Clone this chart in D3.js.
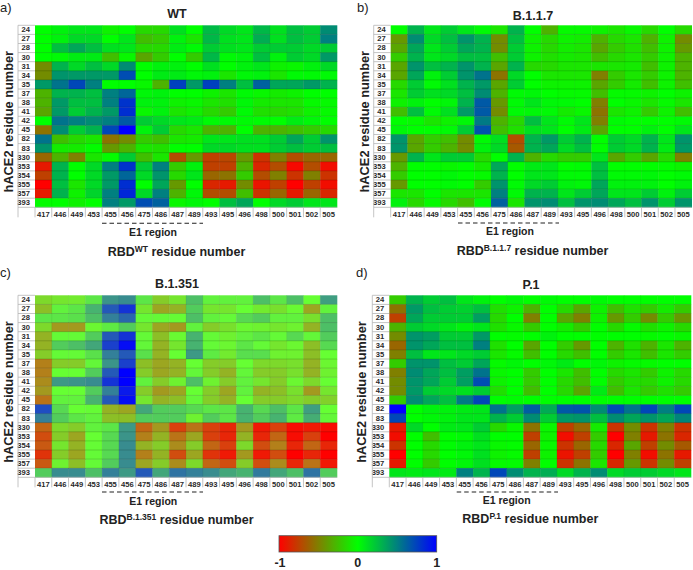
<!DOCTYPE html>
<html><head><meta charset="utf-8">
<script src="https://cdn.jsdelivr.net/npm/d3@7"></script>
<style>
html,body{margin:0;padding:0;background:#fff}
svg{display:block}
text{font-family:"Liberation Sans",Arial,sans-serif}
.heat{filter:blur(0.5px)}
</style></head><body><svg id="c" width="693" height="570"></svg>
<script>
const hace2Residues=[24,27,28,30,31,34,35,37,38,41,42,45,82,83,330,353,354,355,357,393];
const rbdResidues=[417,446,449,453,455,456,475,486,487,489,493,495,496,498,500,501,502,505];
const colorDomain=[-1,0,1];
const legendTicks=[-1,0,1];
const wtValues=[
[0,.05,.1,.1,-.05,0,-.15,-.15,.12,0,.27,.15,.1,.28,.12,.25,.2,.45],
[0,.05,.15,.15,0,.1,-.25,-.2,.05,-.1,.28,.12,.1,.32,.12,.25,.2,.5],
[0,.25,.35,.25,.12,.1,-.15,-.15,.07,.02,.2,.12,.1,.2,.2,.2,.15,.2],
[0,.02,.07,.08,-.25,-.03,-.35,-.2,0,-.2,.28,.02,.05,.25,.05,.2,.15,.4],
[-.45,.3,.15,.25,.15,.45,0,.05,.05,0,.12,0,.05,.1,-.05,-.03,.05,.15],
[-.45,.42,.4,.4,.4,.7,0,.08,.08,.03,.05,-.1,.03,.05,-.1,.02,.02,.02],
[.4,.55,.72,.5,0,0,-.03,-.3,.75,.4,.75,.5,.25,.62,.35,.35,.4,.3],
[-.3,.3,.3,.25,.5,.6,.03,.05,0,0,-.05,-.1,.02,-.03,-.08,-.05,0,0],
[-.3,.4,.25,.25,.5,.8,.05,.05,-.05,-.03,-.1,-.12,.03,-.08,-.1,-.1,-.02,-.02],
[-.35,.4,.2,.3,.4,.82,-.03,.05,-.1,-.06,-.15,-.2,.02,-.12,-.15,-.12,-.05,-.02],
[0,.55,.5,.45,.5,.65,.2,.15,.1,.08,.02,.02,.02,.01,0,.07,.03,0],
[-.55,.45,.2,.3,.72,1,.05,.2,-.15,-.1,-.3,-.3,0,-.3,-.3,-.25,-.2,-.15],
[.55,-.25,-.15,-.1,-.55,-.45,-.2,-.25,-.1,-.08,.1,.1,.12,.12,.2,.35,.2,.42],
[.42,-.08,-.08,-.01,-.4,-.3,-.1,-.12,0,0,.15,.15,.12,.12,.2,.25,.2,.25],
[-.6,-.3,-.5,-.1,-.01,.2,-.25,-.1,-.7,-.4,-.75,-.72,-.4,-.8,-.5,-.7,-.6,-.6],
[-.9,.3,0,.15,.5,.8,.2,.5,-.2,.05,-.75,-.75,-.3,-.85,-.7,-.97,-.7,-.95],
[-.75,.3,0,.15,.4,.6,.15,.42,-.15,.1,-.6,-.55,-.2,-.7,-.5,-.8,-.5,-.8],
[-1,.25,-.1,.15,.4,.82,0,.35,-.4,0,-.85,-.9,-.45,-.92,-.75,-1,-.75,-.95],
[-.9,.3,-.05,.17,.5,.85,.15,.5,-.3,.03,-.7,-.7,-.25,-.8,-.6,-.9,-.6,-.85],
[-.01,0,-.05,0,.5,.4,.7,.62,-.03,.03,0,.25,.35,0,.15,.2,.1,.1]];
const b117Values=[
[0,.3,.1,.2,.1,.02,-.1,.3,0,-.3,-.02,-.02,-.05,-.1,-.03,-.15,0,-.15],
[-.4,.45,.15,.25,.42,.3,-.45,.25,-.05,-.15,-.05,-.07,-.3,-.15,-.1,-.3,-.05,-.45],
[-.35,.35,.1,.2,.35,.3,-.45,.2,-.05,-.15,-.07,-.1,-.35,-.2,-.12,-.25,-.05,-.4],
[-.2,.3,.1,.15,.25,.25,-.25,.2,-.05,-.12,-.08,-.1,-.25,-.15,-.1,-.2,-.05,-.3],
[-.35,.42,.25,.3,.42,.3,-.35,.3,-.15,-.15,-.1,-.1,-.1,-.1,-.08,-.25,-.05,-.3],
[-.35,.35,.05,.2,.42,.55,-.55,.15,0,-.1,-.1,-.1,-.5,-.2,-.1,-.2,-.05,-.3],
[-.15,.2,.02,.12,.3,.4,-.35,.2,0,-.05,-.05,-.05,-.35,-.2,-.08,-.25,-.05,-.25],
[-.1,.2,.12,.15,.25,.45,-.3,.02,.03,0,-.02,-.02,-.25,-.02,-.02,-.05,0,-.05],
[-.05,.05,0,.03,.3,.65,-.4,.02,.1,.03,.02,0,-.5,0,-.03,-.1,-.02,-.1],
[-.25,.25,.02,.12,.4,.65,-.45,.02,.03,.02,-.08,-.03,-.55,-.1,-.05,-.2,-.05,-.25],
[0,-.02,-.1,-.05,.03,.52,-.3,-.15,.25,.1,.02,.1,-.5,.02,0,0,0,.02],
[.03,0,0,.02,.2,.68,-.25,-.12,.12,.1,0,.08,-.35,0,0,.05,0,.1],
[.42,-.35,-.2,-.25,-.45,.02,.12,-.7,.3,.4,.2,.3,0,.2,.15,.3,.1,.42],
[.42,-.35,-.2,-.3,-.45,.05,.15,-.65,.3,.35,.15,.25,0,.2,.15,.3,.08,.4],
[-.4,.3,.1,.2,.2,-.15,0,.3,-.3,-.15,-.2,-.2,.1,-.35,-.2,-.35,-.15,-.5],
[-.3,0,0,-.03,0,-.08,.35,0,.08,.1,0,.01,.25,0,0,0,-.01,-.05],
[-.2,0,0,.03,0,-.02,.3,0,.1,.1,.02,.02,.25,.02,.02,.03,0,.02],
[-.4,0,0,.02,0,-.2,.42,.02,.15,.2,.05,.03,.35,.05,.05,.05,0,.05],
[-.1,-.1,0,-.1,-.1,-.1,.5,.02,.3,.3,.1,.2,.35,.1,.1,.2,.05,.2],
[.05,-.15,-.02,-.15,-.25,.01,.62,-.1,.42,.45,.25,.42,.45,.35,.25,.42,.2,.42]];
const b1351Values=[
[-.15,-.1,-.08,.1,.42,.45,.1,-.2,-.1,.25,.05,.05,.05,.25,.1,.25,0,.38],
[-.25,.05,.1,.3,.65,.8,-.1,-.35,-.3,.2,-.1,-.1,0,-.08,-.12,-.02,-.35,.05],
[.1,.1,.12,.25,.5,.6,.02,.02,.01,.25,.05,.02,.15,.2,.05,.05,-.12,.25],
[-.15,-.4,-.4,-.03,.08,.2,-.1,-.35,-.4,.05,-.2,-.12,-.03,-.05,-.1,-.05,-.3,.25],
[-.3,.02,.02,.2,.65,.8,.02,-.25,-.02,.3,.02,-.05,.05,.1,.02,.15,.03,.2],
[-.3,.2,.25,.35,.75,.95,.03,-.3,-.1,.3,.02,-.03,.1,.02,-.1,-.03,-.25,.15],
[-.2,.02,.02,.12,.5,.65,.12,-.3,0,.4,.08,-.08,.13,.13,-.05,-.05,-.25,0],
[-.5,-.2,-.2,.03,.42,.75,-.25,-.35,-.3,0,-.2,-.2,0,-.15,-.15,-.12,-.3,-.03],
[-.5,0,0,.2,.65,1,-.2,-.35,-.3,.03,-.2,-.3,.03,-.2,-.2,-.12,-.3,-.05],
[-.45,.4,.42,.45,.8,1,.05,-.2,-.05,.25,-.05,-.2,.05,-.1,-.2,-.03,-.15,0],
[-.4,0,0,.2,.5,.9,-.2,-.4,-.35,0,-.2,-.35,.05,-.3,-.25,-.12,-.4,-.1],
[-.55,.05,.05,.3,.65,.95,-.1,-.3,-.25,.03,-.2,-.3,0,-.2,-.2,-.15,-.2,-.18],
[.7,.15,0,.01,-.3,-.35,.35,.2,.2,.15,.1,.1,.3,.15,.25,.1,.38,0],
[.5,.2,.1,.05,-.25,-.25,.2,.2,.2,-.05,.2,.1,.3,.2,.3,.08,.32,.03],
[-.6,-.15,-.2,.05,.1,.4,-.6,-.4,-.75,-.55,-.75,-.85,-.4,-.9,-.75,-.95,-.9,-.95],
[-.7,-.2,-.35,0,.15,.42,-.5,-.3,-.55,-.35,-.75,-.85,-.3,-.85,-.6,-.95,-.75,-1],
[-.65,-.1,-.3,.01,.15,.45,-.3,-.2,-.45,-.2,-.6,-.75,-.15,-.7,-.5,-.85,-.6,-.85],
[-.8,-.2,-.35,.02,.15,.45,-.5,-.3,-.7,-.35,-.8,-.9,-.4,-.9,-.7,-1,-.85,-1],
[-.65,-.05,-.25,.02,.2,.45,-.35,-.2,-.45,-.15,-.6,-.7,-.2,-.7,-.45,-.85,-.55,-.9],
[.2,.45,.45,.25,.5,.4,.65,.35,.55,.5,.45,.35,.3,.52,.35,.25,.55,.2]];
const p1Values=[
[-.2,.3,.2,.25,.1,.05,0,.03,0,.02,0,0,.02,0,0,0,0,0],
[-.55,.4,.25,.2,.18,.25,-.12,-.05,-.3,0,-.15,-.35,-.05,-.25,-.12,-.2,-.08,-.2],
[-.75,.35,.2,.2,.2,.38,-.15,0,-.5,0,-.35,-.5,-.05,-.4,-.2,-.45,-.2,-.4],
[-.3,.2,.15,.1,.05,.1,-.12,-.03,-.2,0,-.08,-.2,0,-.15,-.02,-.12,-.05,-.15],
[-.45,.42,.38,.2,.2,.4,0,-.01,0,.05,0,0,0,0,0,-.02,0,-.03],
[-.6,.42,.35,.25,.25,.5,-.12,0,-.35,0,-.2,-.4,0,-.3,-.12,-.3,-.1,-.3],
[-.5,.25,.1,.1,.15,.2,-.1,-.02,-.25,0,-.15,-.25,0,-.2,-.1,-.25,-.1,-.2],
[-.2,.42,.42,.25,.2,.35,-.02,.03,0,.03,.08,0,.03,-.05,-.02,-.02,0,0],
[-.5,.45,.35,.25,.38,.55,-.03,0,-.2,0,-.1,-.25,0,-.15,-.1,-.2,-.05,-.15],
[-.45,.42,.35,.2,.38,.7,-.05,0,-.2,0,-.15,-.25,0,-.2,-.12,-.15,-.05,-.15],
[-.45,.4,.2,.15,.12,.2,-.12,0,-.25,0,-.15,-.35,.08,-.25,-.1,-.2,-.12,-.2],
[-.2,.45,.35,.25,.52,.72,0,.01,0,0,0,0,0,0,0,0,0,0],
[1,0,.05,.05,.08,.1,.55,.38,.63,.33,.65,.67,.45,.7,.55,.72,.5,.72],
[.72,0,.03,.05,.1,.1,.3,.2,.45,.2,.4,.42,.25,.45,.35,.42,.35,.48],
[-.9,.15,0,.08,.1,.2,-.15,-.03,-.55,-.03,-.75,-.6,-.08,-.8,-.45,-.8,-.5,-.8],
[-.95,0,-.25,0,.02,.12,0,0,-.75,-.05,-.95,-.75,-.2,-1,-.5,-.9,-.55,-.85],
[-.8,0,-.15,.01,.05,.1,-.03,-.01,-.6,-.03,-.8,-.6,-.15,-.85,-.35,-.75,-.45,-.65],
[-1,0,-.15,0,.03,.12,-.05,-.02,-.75,-.05,-.92,-.75,-.2,-1,-.5,-.95,-.55,-.9],
[-.9,0,-.2,0,.03,.12,-.02,-.01,-.5,0,-.8,-.55,-.1,-.85,-.4,-.8,-.45,-.75],
[.1,.08,.1,.08,.5,.3,.72,.45,.3,.32,.15,.3,.45,.15,.2,.2,.15,.1]];

const panels=[
 {tag:"a)",title:"WT",sup:"WT",values:wtValues,x0:35,x1:337,y0:25.3,y1:207.3,mid:"#00ff00",tagX:0,tagY:12,titleX:177,titleY:18,yTitleX:12.5,yTitleC:121.7,xTitleX:176.5,e1:[102,203],e1X:153,e1Y:223.3,e1TY:235.7,xTitleY:255.7},
 {tag:"b)",title:"B.1.1.7",sup:"B.1.1.7",values:b117Values,x0:390.7,x1:691.7,y0:25.3,y1:207.3,mid:"#00ff00",tagX:357,tagY:12,titleX:533,titleY:19.5,yTitleX:369.3,yTitleC:121.7,xTitleX:532.5,e1:[458,559],e1X:510,e1Y:223,e1TY:235,xTitleY:255},
 {tag:"c)",title:"B.1.351",sup:"B.1.351",values:b1351Values,x0:35,x1:337,y0:295.3,y1:477.3,mid:"#66ff33",tagX:0,tagY:277,titleX:177,titleY:288,yTitleX:12.5,yTitleC:392,xTitleX:176.5,e1:[102,203],e1X:153.3,e1Y:492,e1TY:504.7,xTitleY:524},
 {tag:"d)",title:"P.1",sup:"P.1",values:p1Values,x0:389.3,x1:691,y0:295.3,y1:477.3,mid:"#00ff00",tagX:356,tagY:277,titleX:531,titleY:289,yTitleX:366,yTitleC:392,xTitleX:530.3,e1:[456.7,558],e1X:506.7,e1Y:492,e1TY:504,xTitleY:522.7}
];
const svg=d3.select("#c");
const axisGrey="#b5b5b5";
panels.forEach(p=>{
 const color=d3.scaleLinear().domain(colorDomain).range(["#ff0000",p.mid,"#0000ff"]).interpolate(d3.interpolateRgb);
 const x=d3.scaleBand().domain(rbdResidues).range([p.x0,p.x1]);
 const y=d3.scaleBand().domain(hace2Residues).range([p.y0,p.y1]);
 const g=svg.append("g");
 const heat=g.append("g").attr("class","heat");
 const cells=p.values.flatMap((row,i)=>row.map((v,j)=>({r:hace2Residues[i],c:rbdResidues[j],v})));
 heat.selectAll("rect.cell").data(cells).join("rect").attr("class","cell")
  .attr("x",d=>x(d.c)).attr("y",d=>y(d.r))
  .attr("width",x.bandwidth()+.3).attr("height",y.bandwidth()+.3)
  .attr("fill",d=>color(d.v));
 heat.selectAll("line.h").data(hace2Residues.slice(1)).join("line").attr("class","h")
  .attr("x1",p.x0).attr("x2",p.x1).attr("y1",d=>y(d)).attr("y2",d=>y(d))
  .attr("stroke","#000").attr("stroke-opacity",.2).attr("stroke-width",.8);
 heat.selectAll("line.v").data(rbdResidues.slice(1)).join("line").attr("class","v")
  .attr("y1",p.y0).attr("y2",p.y1).attr("x1",d=>x(d)).attr("x2",d=>x(d))
  .attr("stroke","#000").attr("stroke-opacity",.08).attr("stroke-width",.8);
 const yAxis=g.append("g").attr("transform",`translate(${p.x0},0)`).call(d3.axisLeft(y).tickSize(0).tickPadding(5));
 yAxis.select(".domain").remove();
 const xAxis=g.append("g").attr("transform",`translate(0,${p.y1})`).call(d3.axisBottom(x).tickSize(0).tickPadding(4));
 xAxis.select(".domain").remove();
 [yAxis,xAxis].forEach(a=>a.selectAll("text").attr("font-family","Liberation Sans").attr("font-size",7.6).attr("font-weight","bold").attr("fill","#2a2a2a"));
 g.selectAll("line.yt").data(hace2Residues).join("line").attr("class","yt")
  .attr("x1",p.x0-17).attr("x2",p.x0).attr("y1",d=>y(d)).attr("y2",d=>y(d)).attr("stroke",axisGrey).attr("stroke-width",.8);
 g.append("line").attr("x1",p.x0-17).attr("x2",p.x1).attr("y1",p.y1).attr("y2",p.y1).attr("stroke",axisGrey).attr("stroke-width",.8);
 g.append("line").attr("x1",p.x0-17).attr("x2",p.x0-17).attr("y1",p.y0).attr("y2",p.y1+10).attr("stroke",axisGrey).attr("stroke-width",.8);
 g.selectAll("line.xt").data(rbdResidues).join("line").attr("class","xt")
  .attr("x1",d=>x(d)).attr("x2",d=>x(d)).attr("y1",p.y1).attr("y2",p.y1+10).attr("stroke",axisGrey).attr("stroke-width",.8);
 g.append("text").attr("x",p.tagX).attr("y",p.tagY).attr("font-size",13).attr("fill","#222").text(p.tag);
 g.append("text").attr("x",p.titleX).attr("y",p.titleY).attr("text-anchor","middle").attr("font-size",12.5).attr("font-weight","bold").attr("fill","#222").text(p.title);
 g.append("text").attr("transform",`translate(${p.yTitleX},${p.yTitleC}) rotate(-90)`).attr("text-anchor","middle").attr("font-size",12.8).attr("font-weight","bold").attr("fill","#222").text("hACE2 residue number");
 g.append("line").attr("x1",p.e1[0]).attr("x2",p.e1[1]).attr("y1",p.e1Y).attr("y2",p.e1Y).attr("stroke","#222").attr("stroke-width",1.1).attr("stroke-dasharray","4.5,3");
 g.append("text").attr("x",p.e1X).attr("y",p.e1TY).attr("text-anchor","middle").attr("font-size",10.5).attr("font-weight","bold").attr("fill","#222").text("E1 region");
 const t=g.append("text").attr("x",p.xTitleX).attr("y",p.xTitleY).attr("text-anchor","middle").attr("font-size",12.5).attr("font-weight","bold").attr("fill","#222");
 t.append("tspan").text("RBD");
 t.append("tspan").attr("dy",-4).attr("font-size",8.5).text(p.sup);
 t.append("tspan").attr("dy",4).text(" residue number");
});
const lx=d3.scaleLinear().domain([colorDomain[0],colorDomain[2]]).range([279,436.7]);
const lcolor=d3.scaleLinear().domain(colorDomain).range(["#ff0000","#00ff00","#0000ff"]);
const grad=svg.append("defs").append("linearGradient").attr("id","lg");
d3.range(0,21).forEach(i=>{const v=-1+i/10;grad.append("stop").attr("offset",(i*5)+"%").attr("stop-color",lcolor(v));});
svg.append("rect").attr("x",lx(-1)).attr("y",535.7).attr("width",lx(1)-lx(-1)).attr("height",16.3).attr("fill","url(#lg)").attr("stroke","#555").attr("stroke-width",.8);
svg.selectAll("text.lt").data(legendTicks).join("text").attr("class","lt")
 .attr("x",(d,i)=>lx(d)+(i==0?1:0)).attr("y",567).attr("text-anchor","middle").attr("font-size",12.5).attr("font-weight","bold").attr("fill","#222")
 .text(d=>d);
</script></body></html>
